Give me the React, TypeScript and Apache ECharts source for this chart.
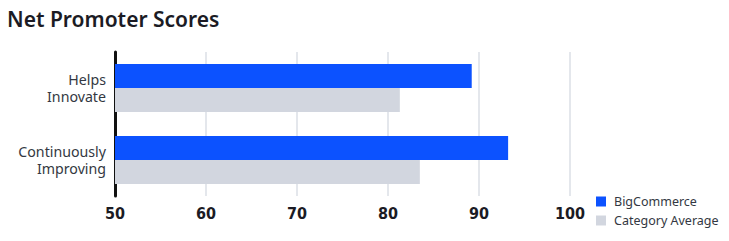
import React, { useEffect, useRef } from "react";
import * as echarts from "echarts";

const categories = ["Helps\nInnovate", "Continuously\nImproving"];
const bigCommerce = [89.2, 93.2];
const categoryAverage = [81.3, 83.5];
const seriesNames = ["BigCommerce", "Category Average"];

export default function App() {
  const ref = useRef<HTMLDivElement>(null);
  useEffect(() => {
    if (!ref.current) return;
    const chart = echarts.init(ref.current, undefined, { renderer: "svg" });
    chart.setOption({
      animation: false,
      title: {
        text: "Net Promoter Scores",
        left: 2,
        top: 3,
        textStyle: {
          fontFamily: "'Noto Sans', sans-serif",
          fontSize: 21,
          fontWeight: 600,
          color: "#1b1b24",
        },
      },
      legend: {
        orient: "vertical",
        left: 591,
        top: 190,
        itemWidth: 10,
        itemHeight: 10,
        itemGap: 6,
        icon: "rect",
        textStyle: {
          fontFamily: "'Noto Sans', sans-serif",
          fontSize: 12.5,
          color: "#333842",
          padding: [0, 0, 0, 3],
        },
        data: seriesNames,
      },
      grid: { left: 115, right: 159, top: 52, bottom: 45, containLabel: false },
      xAxis: {
        type: "value",
        min: 50,
        max: 100,
        interval: 10,
        axisLine: { show: false },
        axisTick: { show: false },
        splitLine: { lineStyle: { color: "#e4e7ec", width: 2 } },
        axisLabel: {
          margin: 9,
          fontFamily: "'DejaVu Sans Condensed', 'Liberation Sans Narrow', sans-serif",
          fontSize: 16,
          fontWeight: "bold",
          color: "#1b1b24",
        },
      },
      yAxis: {
        type: "category",
        inverse: true,
        data: categories,
        axisLine: { show: true, lineStyle: { color: "#111111", width: 3 } },
        axisTick: { show: false },
        axisLabel: {
          margin: 9,
          align: "right",
          fontFamily: "'Noto Sans', sans-serif",
          fontSize: 14.2,
          lineHeight: 17.5,
          color: "#333842",
        },
      },
      series: [
        {
          name: seriesNames[0],
          type: "bar",
          data: bigCommerce,
          barWidth: 24,
          barGap: "0%",
          barCategoryGap: "33%",
          itemStyle: { color: "#0c52ff" },
        },
        {
          name: seriesNames[1],
          type: "bar",
          data: categoryAverage,
          barWidth: 24,
          barGap: "0%",
          barCategoryGap: "33%",
          itemStyle: { color: "#d2d6df" },
        },
      ],
    });
    return () => chart.dispose();
  }, []);
  return <div ref={ref} style={{ width: 729, height: 241, position: "absolute", left: 0, top: 0 }} />;
}
